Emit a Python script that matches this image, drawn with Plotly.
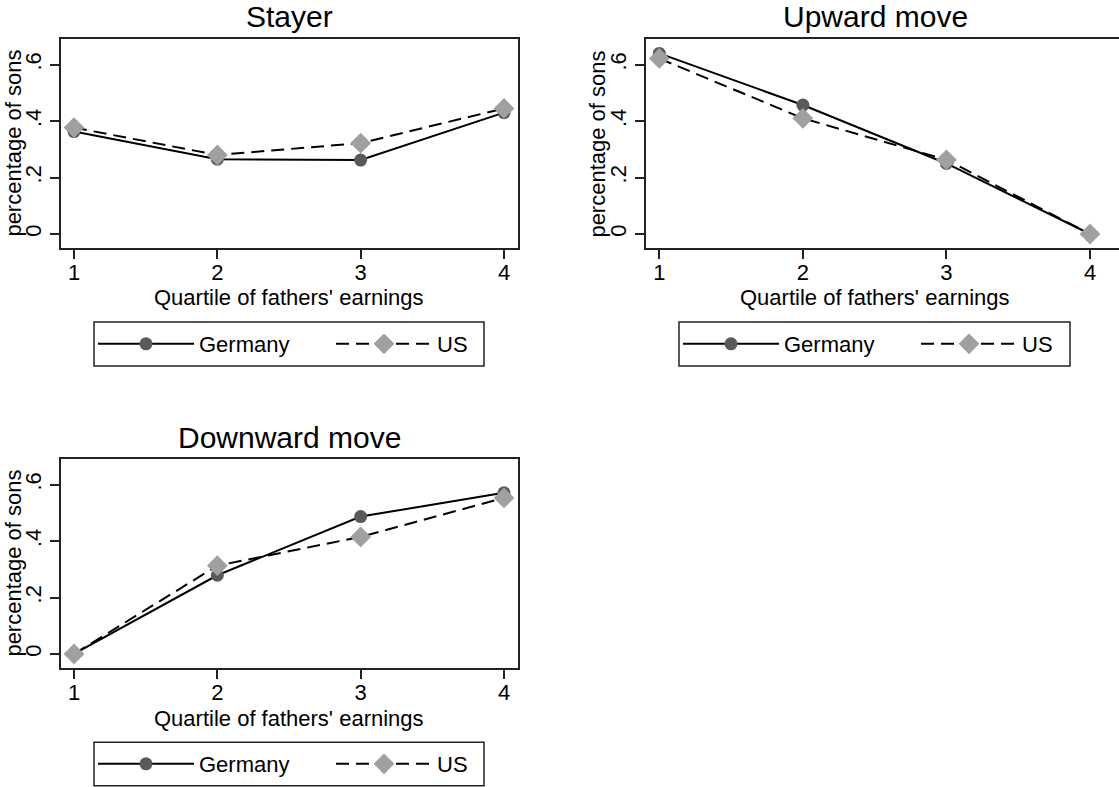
import plotly.graph_objects as go

quartiles = [1, 2, 3, 4]
stayer_germany = [0.363, 0.265, 0.262, 0.430]
stayer_us = [0.377, 0.280, 0.322, 0.445]
upward_germany = [0.640, 0.457, 0.250, 0.0]
upward_us = [0.622, 0.410, 0.263, 0.0]
downward_germany = [0.0, 0.279, 0.487, 0.571]
downward_us = [0.0, 0.313, 0.415, 0.553]

panel_titles = ["Stayer", "Upward move", "Downward move"]
x_title = "Quartile of fathers' earnings"
y_title = "percentage of sons"
y_tickvals = [0, 0.2, 0.4, 0.6]
y_ticktext = ["0", ".2", ".4", ".6"]
series_names = ["Germany", "US"]

W, H = 1119, 787
FONT = "Liberation Sans, Arial, Helvetica, sans-serif"
GER_MARK = "#5a5a5a"
US_MARK = "#a0a0a0"
FRAME = "#222222"

def px_x(p):
    return p / W

def px_y(p):
    return 1 - p / H

fig = go.Figure()

panels = [
    (stayer_germany, stayer_us, "x", "y", "legend", "legend2"),
    (upward_germany, upward_us, "x2", "y2", "legend3", "legend4"),
    (downward_germany, downward_us, "x3", "y3", "legend5", "legend6"),
]
for ger, us, xa, ya, lg1, lg2 in panels:
    fig.add_trace(go.Scatter(
        x=quartiles, y=ger, name=series_names[0], xaxis=xa, yaxis=ya, legend=lg1,
        mode="lines+markers", line=dict(color="black", width=2),
        marker=dict(symbol="circle", size=13, color=GER_MARK),
    ))
    fig.add_trace(go.Scatter(
        x=quartiles, y=us, name=series_names[1], xaxis=xa, yaxis=ya, legend=lg2,
        mode="lines+markers", line=dict(color="black", width=2, dash="13px,7px"),
        marker=dict(symbol="diamond", size=16, color=US_MARK),
    ))

yr = [-0.0507, 0.691]
axis_common = dict(
    showgrid=False, zeroline=False, showline=True, linecolor=FRAME, linewidth=1.5,
    ticks="outside", ticklen=9, tickwidth=1.5, tickcolor=FRAME,
    tickfont=dict(family=FONT, size=22, color="black"),
)

geo = {
    "1": dict(xd=[61, 518], yd=[39, 248.3], xr=[0.9093, 4.0977], mirror_y=True),
    "2": dict(xd=[645.7, 1119], yd=[39, 248.3], xr=[0.9053, 4.202], mirror_y=False),
    "3": dict(xd=[61, 518], yd=[459, 668.3], xr=[0.9093, 4.0977], mirror_y=True),
}
for k, g in geo.items():
    sx = "" if k == "1" else k
    fig.update_layout(**{
        f"xaxis{sx}": dict(
            domain=[px_x(g["xd"][0]), px_x(g["xd"][1])], range=g["xr"],
            anchor=f"y{sx}", tickvals=quartiles, ticktext=[str(q) for q in quartiles],
            mirror=True, automargin=False, ticklabelstandoff=-5, **axis_common),
        f"yaxis{sx}": dict(
            domain=[px_y(g["yd"][1]), px_y(g["yd"][0])], range=yr,
            anchor=f"x{sx}", tickvals=y_tickvals, ticktext=y_ticktext, tickangle=-90,
            mirror=g["mirror_y"], automargin=False, **axis_common),
    })

ann = []
title_pos = [(289, 17), (875, 17), (289, 437)]
xt_pos = [(289, 297.5), (875, 297.5), (289, 718)]
yt_pos = [(14, 143.6), (598, 143.6), (14, 563.6)]
for i in range(3):
    ann.append(dict(text=panel_titles[i], x=px_x(title_pos[i][0]), y=px_y(title_pos[i][1]),
                    xref="paper", yref="paper", showarrow=False, xanchor="center", yanchor="middle",
                    font=dict(family=FONT, size=30, color="black")))
    ann.append(dict(text=x_title, x=px_x(xt_pos[i][0]), y=px_y(xt_pos[i][1]),
                    xref="paper", yref="paper", showarrow=False, xanchor="center", yanchor="middle",
                    font=dict(family=FONT, size=22, color="black")))
    ann.append(dict(text=y_title, x=px_x(yt_pos[i][0]), y=px_y(yt_pos[i][1]), textangle=-90,
                    xref="paper", yref="paper", showarrow=False, xanchor="center", yanchor="middle",
                    font=dict(family=FONT, size=22, color="black")))

legend_boxes = [(94, 322, 484, 366), (679, 322, 1070, 366), (94, 742.3, 484, 785.7)]
shapes = []
legends = {}
for i, (l, t, r, b) in enumerate(legend_boxes):
    shapes.append(dict(type="rect", xref="paper", yref="paper",
                       x0=px_x(l), x1=px_x(r), y0=px_y(b), y1=px_y(t),
                       line=dict(color=FRAME, width=1.5), fillcolor="rgba(0,0,0,0)"))
    cy = (t + b) / 2
    common = dict(orientation="h", xanchor="left", yanchor="middle", borderwidth=0,
                  bgcolor="rgba(0,0,0,0)", font=dict(family=FONT, size=22, color="black"),
                  itemwidth=96)
    n1 = "legend" if i == 0 else f"legend{2 * i + 1}"
    n2 = f"legend{2 * i + 2}"
    legends[n1] = dict(x=px_x(l - 1), y=px_y(cy), **common)
    legends[n2] = dict(x=px_x(l + 237), y=px_y(cy), **common)

fig.update_layout(
    width=W, height=H, margin=dict(l=0, r=0, t=0, b=0, autoexpand=False),
    paper_bgcolor="white", plot_bgcolor="white", showlegend=True,
    annotations=ann, shapes=shapes, **legends,
)

fig.write_html("out.html", config={"displayModeBar": False},
               post_script="document.body.style.margin='0px';")
